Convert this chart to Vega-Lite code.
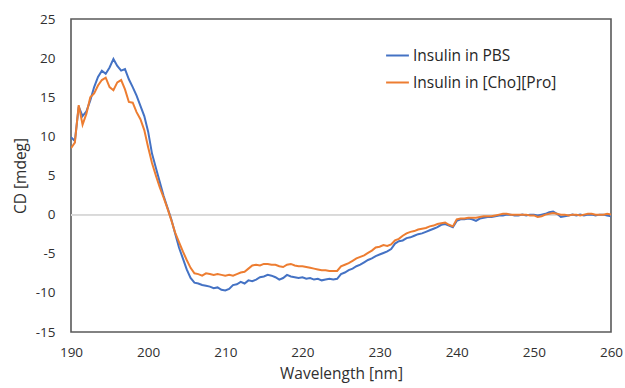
{
  "$schema": "https://vega.github.io/schema/vega-lite/v6.json",
  "width": 540,
  "height": 313,
  "autosize": {"type": "none"},
  "padding": {"left": 71, "top": 19, "right": 14, "bottom": 56},
  "background": "white",
  "config": {
    "font": "Open Sans",
    "view": {"stroke": "#595959", "strokeWidth": 1.6},
    "axis": {"labelFont": "Open Sans", "titleFont": "Open Sans", "labelColor": "#303030", "titleColor": "#303030", "titleFontWeight": "normal",
             "labelOverlap": false, "labelFlush": false, "labelBound": false, "grid": false, "ticks": false, "domain": false}
  },
  "data": {"values": [
    {"w":190.0,"a":9.9,"b":8.5},{"w":190.5,"a":9.4,"b":9.2},{"w":191.0,"a":13.8,"b":14.0},{"w":191.5,"a":12.6,"b":11.5},
    {"w":192.0,"a":13.2,"b":12.9},{"w":192.5,"a":14.6,"b":15.0},{"w":193.0,"a":16.3,"b":15.5},{"w":193.5,"a":17.6,"b":16.5},
    {"w":194.0,"a":18.4,"b":17.2},{"w":194.5,"a":18.0,"b":17.5},{"w":195.0,"a":18.8,"b":16.3},{"w":195.5,"a":19.9,"b":15.9},
    {"w":196.0,"a":19.0,"b":16.9},{"w":196.5,"a":18.4,"b":17.2},{"w":197.0,"a":18.6,"b":16.0},{"w":197.5,"a":17.3,"b":14.4},
    {"w":198.0,"a":16.3,"b":14.3},{"w":198.5,"a":15.2,"b":13.1},{"w":199.0,"a":13.9,"b":12.2},{"w":199.5,"a":12.6,"b":10.8},
    {"w":200.0,"a":10.6,"b":8.6},{"w":200.5,"a":7.8,"b":6.6},{"w":201.0,"a":6.0,"b":5.0},{"w":201.5,"a":4.2,"b":3.5},
    {"w":202.0,"a":2.4,"b":2.2},{"w":202.5,"a":0.9,"b":0.8},{"w":203.0,"a":-0.6,"b":-0.7},{"w":203.5,"a":-2.4,"b":-2.3},
    {"w":204.0,"a":-4.2,"b":-3.5},{"w":204.5,"a":-5.6,"b":-4.7},{"w":205.0,"a":-7.0,"b":-5.8},{"w":205.5,"a":-8.1,"b":-6.8},
    {"w":206.0,"a":-8.7,"b":-7.5},{"w":206.5,"a":-8.8,"b":-7.6},{"w":207.0,"a":-9.0,"b":-7.8},{"w":207.5,"a":-9.1,"b":-7.5},
    {"w":208.0,"a":-9.2,"b":-7.6},{"w":208.5,"a":-9.4,"b":-7.7},{"w":209.0,"a":-9.3,"b":-7.6},{"w":209.5,"a":-9.6,"b":-7.7},
    {"w":210.0,"a":-9.7,"b":-7.8},{"w":210.5,"a":-9.5,"b":-7.7},{"w":211.0,"a":-9.0,"b":-7.8},{"w":211.5,"a":-8.9,"b":-7.6},
    {"w":212.0,"a":-8.6,"b":-7.4},{"w":212.5,"a":-8.8,"b":-7.3},{"w":213.0,"a":-8.4,"b":-6.9},{"w":213.5,"a":-8.5,"b":-6.5},
    {"w":214.0,"a":-8.3,"b":-6.4},{"w":214.5,"a":-8.0,"b":-6.5},{"w":215.0,"a":-7.9,"b":-6.3},{"w":215.5,"a":-7.7,"b":-6.3},
    {"w":216.0,"a":-7.8,"b":-6.4},{"w":216.5,"a":-8.0,"b":-6.4},{"w":217.0,"a":-8.3,"b":-6.6},{"w":217.5,"a":-8.1,"b":-6.7},
    {"w":218.0,"a":-7.7,"b":-6.4},{"w":218.5,"a":-7.9,"b":-6.3},{"w":219.0,"a":-8.0,"b":-6.5},{"w":219.5,"a":-8.1,"b":-6.6},
    {"w":220.0,"a":-8.0,"b":-6.6},{"w":220.5,"a":-8.2,"b":-6.7},{"w":221.0,"a":-8.1,"b":-6.8},{"w":221.5,"a":-8.3,"b":-6.9},
    {"w":222.0,"a":-8.2,"b":-7.0},{"w":222.5,"a":-8.4,"b":-7.1},{"w":223.0,"a":-8.3,"b":-7.1},{"w":223.5,"a":-8.2,"b":-7.2},
    {"w":224.0,"a":-8.3,"b":-7.2},{"w":224.5,"a":-8.2,"b":-7.2},{"w":225.0,"a":-7.6,"b":-6.6},{"w":225.5,"a":-7.4,"b":-6.4},
    {"w":226.0,"a":-7.1,"b":-6.2},{"w":226.5,"a":-6.9,"b":-5.9},{"w":227.0,"a":-6.6,"b":-5.6},{"w":227.5,"a":-6.4,"b":-5.4},
    {"w":228.0,"a":-6.1,"b":-5.2},{"w":228.5,"a":-5.8,"b":-4.9},{"w":229.0,"a":-5.6,"b":-4.6},{"w":229.5,"a":-5.3,"b":-4.2},
    {"w":230.0,"a":-5.1,"b":-4.1},{"w":230.5,"a":-4.9,"b":-3.9},{"w":231.0,"a":-4.7,"b":-4.0},{"w":231.5,"a":-4.4,"b":-3.8},
    {"w":232.0,"a":-3.7,"b":-3.3},{"w":232.5,"a":-3.4,"b":-3.1},{"w":233.0,"a":-3.3,"b":-2.7},{"w":233.5,"a":-3.0,"b":-2.4},
    {"w":234.0,"a":-2.9,"b":-2.2},{"w":234.5,"a":-2.7,"b":-2.1},{"w":235.0,"a":-2.5,"b":-1.9},{"w":235.5,"a":-2.4,"b":-1.8},
    {"w":236.0,"a":-2.2,"b":-1.7},{"w":236.5,"a":-2.0,"b":-1.5},{"w":237.0,"a":-1.8,"b":-1.4},{"w":237.5,"a":-1.6,"b":-1.2},
    {"w":238.0,"a":-1.3,"b":-1.1},{"w":238.5,"a":-1.2,"b":-1.0},{"w":239.0,"a":-1.4,"b":-1.3},{"w":239.5,"a":-1.6,"b":-1.5},
    {"w":240.0,"a":-0.8,"b":-0.6},{"w":240.5,"a":-0.6,"b":-0.5},{"w":241.0,"a":-0.6,"b":-0.5},{"w":241.5,"a":-0.5,"b":-0.4},
    {"w":242.0,"a":-0.6,"b":-0.4},{"w":242.5,"a":-0.8,"b":-0.4},{"w":243.0,"a":-0.5,"b":-0.3},{"w":243.5,"a":-0.4,"b":-0.2},
    {"w":244.0,"a":-0.3,"b":-0.2},{"w":244.5,"a":-0.3,"b":-0.2},{"w":245.0,"a":-0.2,"b":-0.1},{"w":245.5,"a":-0.1,"b":0.0},
    {"w":246.0,"a":-0.1,"b":0.1},{"w":246.5,"a":0.0,"b":0.1},{"w":247.0,"a":0.0,"b":0.0},{"w":247.5,"a":-0.1,"b":0.0},
    {"w":248.0,"a":-0.1,"b":0.0},{"w":248.5,"a":0.0,"b":0.0},{"w":249.0,"a":-0.1,"b":0.0},{"w":249.5,"a":0.0,"b":-0.1},
    {"w":250.0,"a":0.0,"b":-0.1},{"w":250.5,"a":-0.1,"b":-0.3},{"w":251.0,"a":0.0,"b":-0.2},{"w":251.5,"a":0.1,"b":0.0},
    {"w":252.0,"a":0.3,"b":0.1},{"w":252.5,"a":0.4,"b":0.2},{"w":253.0,"a":0.1,"b":0.1},{"w":253.5,"a":-0.3,"b":0.0},
    {"w":254.0,"a":-0.2,"b":0.0},{"w":254.5,"a":-0.1,"b":-0.1},{"w":255.0,"a":0.0,"b":0.0},{"w":255.5,"a":-0.1,"b":0.0},
    {"w":256.0,"a":0.0,"b":-0.1},{"w":256.5,"a":-0.1,"b":0.0},{"w":257.0,"a":0.0,"b":0.1},{"w":257.5,"a":0.0,"b":0.1},
    {"w":258.0,"a":-0.1,"b":0.0},{"w":258.5,"a":0.0,"b":0.0},{"w":259.0,"a":0.0,"b":0.0},{"w":259.5,"a":-0.1,"b":0.1},
    {"w":260.0,"a":-0.2,"b":0.0}
  ]},
  "layer": [
    {
      "mark": {"type": "rule", "color": "#d9d9d9", "strokeWidth": 1.2},
      "encoding": {"y": {"datum": 0, "type": "quantitative", "scale": {"domain": [-15, 25], "nice": false, "zero": false},
                         "axis": {"values": [-15, -10, -5, 0, 5, 10, 15, 20, 25], "labelExpr": "'' + datum.value",
                                  "labelFontSize": 13.5, "labelPadding": 16, "title": "CD [mdeg]", "titleFontSize": 15.5, "titlePadding": 7}}}
    },
    {
      "transform": [{"fold": ["a", "b"], "as": ["series", "cd"]}],
      "mark": {"type": "line", "strokeWidth": 2, "clip": true},
      "encoding": {
        "x": {
          "field": "w", "type": "quantitative",
          "scale": {"domain": [190, 260], "nice": false, "zero": false},
          "axis": {"values": [190, 200, 210, 220, 230, 240, 250, 260],
                   "labelFontSize": 13.5, "labelPadding": 13, "title": "Wavelength [nm]", "titleFontSize": 15.5, "titlePadding": 8}
        },
        "y": {
          "field": "cd", "type": "quantitative",
          "scale": {"domain": [-15, 25], "nice": false, "zero": false},
          "axis": {"values": [-15, -10, -5, 0, 5, 10, 15, 20, 25], "labelExpr": "'' + datum.value",
                   "labelFontSize": 13.5, "labelPadding": 16, "title": "CD [mdeg]", "titleFontSize": 15.5, "titlePadding": 7}
        },
        "color": {
          "field": "series", "type": "nominal",
          "scale": {"domain": ["a", "b"], "range": ["#4472C4", "#ED7D31"]},
          "legend": {
            "title": null, "orient": "none", "legendX": 314, "legendY": 24,
            "symbolType": "stroke", "symbolSize": 520, "symbolStrokeWidth": 2,
            "labelFontSize": 15.5, "labelColor": "#262626", "labelOffset": 3, "rowPadding": 6,
            "labelExpr": "datum.label == 'a' ? 'Insulin in PBS' : 'Insulin in [Cho][Pro]'"
          }
        }
      }
    }
  ]
}
